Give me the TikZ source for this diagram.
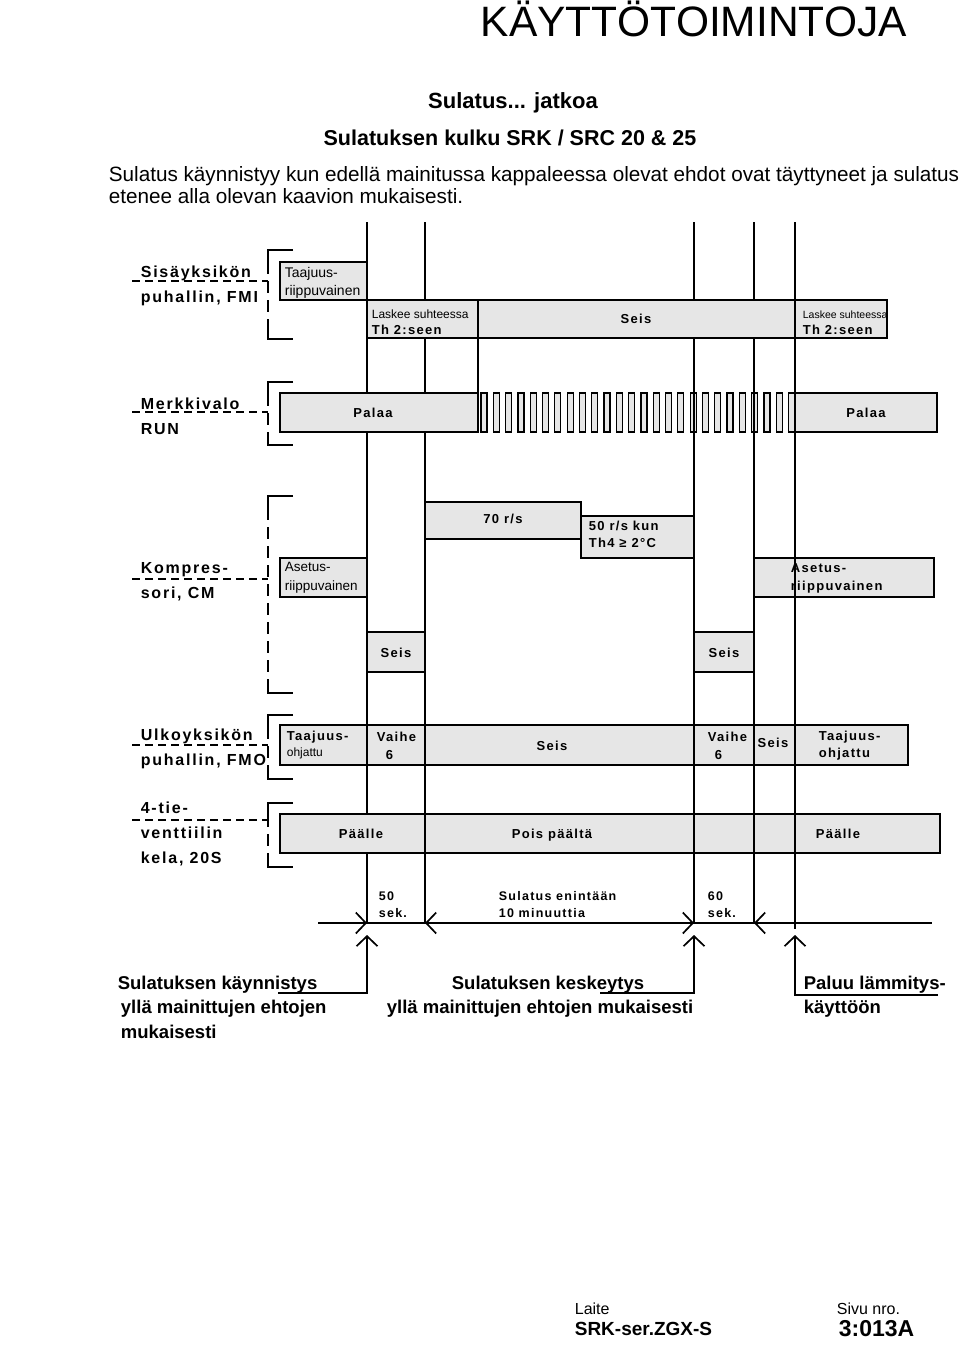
\documentclass[tikz,border=0pt]{standalone}
\usepackage{fontspec}
\setmainfont{Liberation Sans}
\newfontfamily\rowfont[LetterSpace=11]{Liberation Sans}
\newfontfamily\tagfont[LetterSpace=10]{Liberation Sans}
\usetikzlibrary{arrows.meta,positioning}
\definecolor{barfill}{RGB}{230,230,230}

\begin{document}
\begin{tikzpicture}[x=1pt,y=-1pt,line width=1.7pt,
  bar/.style={draw,fill=barfill},
  lead/.style={line width=1.5pt,dash pattern=on 8pt off 5pt},
  brkdash/.style={line width=1.5pt,dash pattern=on 12pt off 7pt},
  barb/.style={-{Straight Barb[length=10pt,width=21pt]}},
  rowlbl/.style={inner sep=0pt,anchor=base west,align=left,font=\fontsize{16}{25}\rowfont\bfseries},
  tag/.style={inner sep=0pt,anchor=base west,align=left,font=\fontsize{13}{17}\tagfont\bfseries},
  tagc/.style={tag,anchor=base},
  thin/.style={inner sep=0pt,anchor=base west,align=left,font=\fontsize{14}{18}\selectfont},
  event/.style={inner sep=0pt,anchor=base west,align=left,font=\fontsize{18.5}{24.5}\selectfont\bfseries},
  foot/.style={inner sep=0pt,anchor=base west,font=\fontsize{16}{20}\selectfont},
]
\useasboundingbox (0,0) rectangle (960,1359);

% Heading
\node[inner sep=0pt,anchor=base west,font=\fontsize{42.5}{48}\selectfont] (title) at (480,37) {KÄYTTÖTOIMINTOJA};
\node[inner sep=0pt,anchor=base,font=\fontsize{22}{26}\selectfont\bfseries] (sub) at (513,109) {Sulatus... jatkoa};
\node[inner sep=0pt,anchor=base,font=\fontsize{21.5}{26}\selectfont\bfseries] (flow) at (510,146) {Sulatuksen kulku SRK / SRC 20 \& 25};
\node[inner sep=0pt,anchor=base west,align=left,font=\fontsize{20.7}{22}\selectfont] (intro) at (108,204)
  {Sulatus käynnistyy kun edellä mainitussa kappaleessa olevat ehdot ovat täyttyneet ja sulatus\\etenee alla olevan kaavion mukaisesti.};

% Time marks
\foreach \x in {367,425,694,754} \draw (\x,222) -- (\x,923);
\draw (795,222) -- (795,929);
\draw (478,337) -- (478,393);

% Row labels with brackets
\foreach \t/\b/\m in {250/339/281, 382/445/412, 496/693/579, 715/779/745, 803/867/820} {
  \draw[lead] (132,\m) -- (268,\m);
  \draw[line width=1.5pt] (293,\t) -- (268,\t) -- (268,\t+12);
  \draw[brkdash] (268,\t+12) -- (268,\b-12);
  \draw[line width=1.5pt] (268,\b-12) -- (268,\b) -- (293,\b);
}
\node[rowlbl] (fmi) at (140,302) {Sisäyksikön\\puhallin, FMI};
\node[rowlbl] (run) at (140,434) {Merkkivalo\\RUN};
\node[rowlbl] (cm) at (140,598) {Kompres-\\sori, CM};
\node[rowlbl] (fmo) at (140,765) {Ulkoyksikön\\puhallin, FMO};
\node[rowlbl] (vlv) at (140,863) {4-tie-\\venttiilin\\kela, 20S};

% Sisäyksikön puhallin
\draw[bar] (280,262) rectangle (367,300);
\draw[bar] (367,300) rectangle (478,338);
\draw[bar] (478,300) rectangle (795,338);
\draw[bar] (795,300) rectangle (887,338);
\node[thin] (fmiA) at (284,295) {Taajuus-\\riippuvainen};
\node[thin,font=\fontsize{12}{16}\selectfont] (fmiB) at (371,318) {Laskee suhteessa};
\node[tag] (fmiB2) at (371,334) {Th 2:seen};
\node[tagc] (fmiC) at (636,323) {Seis};
\node[thin,font=\fontsize{10.5}{14}\selectfont] (fmiD) at (802,318) {Laskee suhteessa};
\node[tag] (fmiD2) at (802,334) {Th 2:seen};

% Merkkivalo RUN
\draw[bar] (280,393) rectangle (478,432);
\foreach \i in {0,...,25}
  \draw[bar,line width=1.2pt] ({481+12.3*\i},393) rectangle ({487+12.3*\i},432);
\draw[bar] (795,393) rectangle (937,432);
\foreach \x in {694,754} \draw (\x,393) -- (\x,432);
\node[tagc] (runA) at (373,417) {Palaa};
\node[tagc] (runB) at (866,417) {Palaa};

% Kompressori
\draw[bar] (280,558) rectangle (367,597);
\draw[bar] (425,502) rectangle (581,539);
\draw[bar] (581,516) rectangle (694,558);
\draw[bar] (754,558) rectangle (934,597);
\draw (795,558) -- (795,597);
\draw[bar] (367,632) rectangle (425,672);
\draw[bar] (694,632) rectangle (754,672);
\node[thin,font=\fontsize{13.5}{19}\selectfont] (cmA) at (284,590) {Asetus-\\riippuvainen};
\node[tagc] (cmB) at (503,523) {70 r/s};
\node[tag] (cmC) at (588,547) {50 r/s kun\\Th4 ≥ 2°C};
\node[tag,font=\fontsize{13}{18}\tagfont\bfseries] (cmD) at (790,590) {Asetus-\\riippuvainen};
\node[tagc] (cmE) at (396,657) {Seis};
\node[tagc] (cmF) at (724,657) {Seis};

% Ulkoyksikön puhallin
\draw[bar] (280,725) rectangle (908,765);
\foreach \x in {367,425,694,754,795} \draw (\x,725) -- (\x,765);
\node[tag] (fmoA) at (286,740) {Taajuus-};
\node[thin,font=\fontsize{12}{16}\selectfont] (fmoA2) at (286,756) {ohjattu};
\node[tag] (fmoB) at (376,741) {Vaihe};
\node[tag] (fmoB2) at (385,759) {6};
\node[tagc] (fmoC) at (552,750) {Seis};
\node[tag] (fmoD) at (707,741) {Vaihe};
\node[tag] (fmoD2) at (714,759) {6};
\node[tagc] (fmoE) at (773,747) {Seis};
\node[tag] (fmoF) at (818,757) {Taajuus-\\ohjattu};

% 4-tieventtiili
\draw[bar] (280,814) rectangle (940,853);
\foreach \x in {425,694,754,795} \draw (\x,814) -- (\x,853);
\node[tagc] (vlvA) at (361,838) {Päälle};
\node[tagc] (vlvB) at (552,838) {Pois päältä};
\node[tagc] (vlvC) at (838,838) {Päälle};

% Time axis
\coordinate (t1) at (367,923);
\coordinate (t2) at (425,923);
\coordinate (t3) at (694,923);
\coordinate (t4) at (754,923);
\draw (318,923) -- (932,923);
\draw[barb] ([xshift=-20pt]t1) -- (t1);
\draw[barb] ([xshift=20pt]t2) -- (t2);
\draw[barb] ([xshift=-20pt]t3) -- (t3);
\draw[barb] ([xshift=20pt]t4) -- (t4);
\node[tag,font=\fontsize{12.5}{17}\tagfont\bfseries] (d50) at (378,917) {50\\sek.};
\node[tag,font=\fontsize{12.5}{17}\tagfont\bfseries] (dmax) at (498,917) {Sulatus enintään\\10 minuuttia};
\node[tag,font=\fontsize{12.5}{17}\tagfont\bfseries] (d60) at (707,917) {60\\sek.};

% Events
\coordinate (e1) at (367,935);
\coordinate (e2) at (694,935);
\coordinate (e3) at (795,935);
\coordinate (u1) at (278,993);
\coordinate (u2) at (600,993);
\coordinate (u3) at (938,995);
\draw[barb] (u1) -| (e1);
\draw[barb] (u2) -| (e2);
\draw[barb] (u3) -| (e3);
\node[event] (ev1) at (117,1038) {Sulatuksen käynnistys\\\,yllä mainittujen ehtojen\\\,mukaisesti};
\node[event] (ev2) at (451,989) {Sulatuksen keskeytys};
\node[event] (ev2b) at (386,1013) {yllä mainittujen ehtojen mukaisesti};
\node[event] (ev3) at (803,1013.5) {Paluu lämmitys-\\käyttöön};

% Footer
\node[foot] (dev) at (574,1314) {Laite};
\node[foot,font=\fontsize{19}{22}\selectfont\bfseries] (devid) at (574,1335) {SRK-ser.ZGX-S};
\node[foot] (page) at (836,1314) {Sivu nro.};
\node[foot,font=\fontsize{23}{26}\selectfont\bfseries] (pageid) at (838,1336) {3:013A};
\end{tikzpicture}
\end{document}
